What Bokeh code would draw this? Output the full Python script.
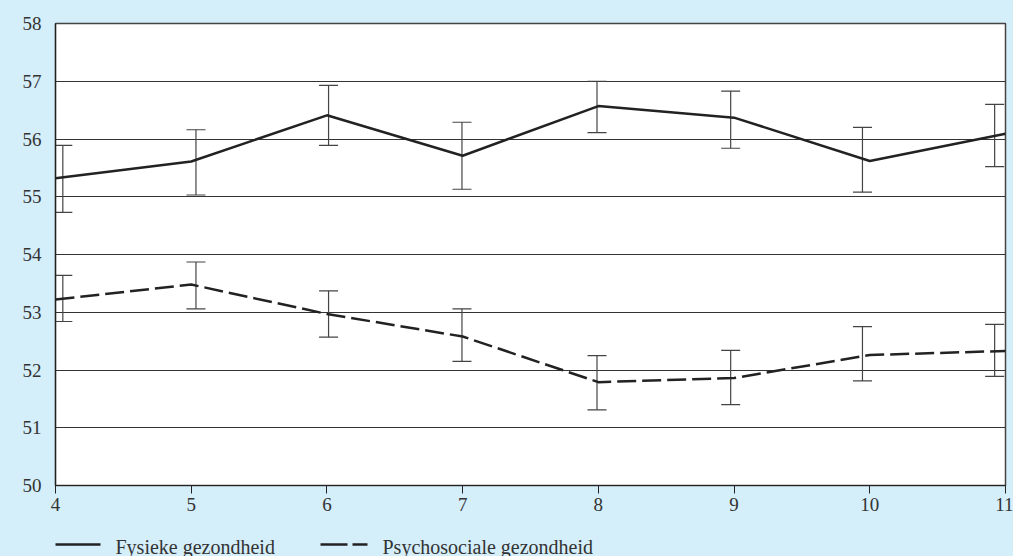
from bokeh.plotting import figure
from bokeh.layouts import column
from bokeh.models import ColumnDataSource, Whisker, TeeHead, FixedTicker, Range1d
from bokeh.core.properties import value
from bokeh.embed import file_html
from bokeh.resources import INLINE

# Data
ages = [4, 5, 6, 7, 8, 9, 10, 11]
err_x = [4.054, 5.035, 6.012, 6.995, 7.99, 8.975, 9.946, 10.92]

fys = [55.32, 55.61, 56.41, 55.71, 56.57, 56.37, 55.62, 56.09]
fys_lo = [54.73, 55.03, 55.89, 55.13, 56.11, 55.84, 55.08, 55.52]
fys_hi = [55.89, 56.16, 56.93, 56.29, 57.00, 56.83, 56.20, 56.60]

psy = [53.22, 53.48, 52.97, 52.58, 51.79, 51.86, 52.26, 52.33]
psy_lo = [52.84, 53.06, 52.57, 52.15, 51.31, 51.40, 51.81, 51.89]
psy_hi = [53.64, 53.87, 53.37, 53.06, 52.25, 52.34, 52.75, 52.79]

y_ticks = [50, 51, 52, 53, 54, 55, 56, 57, 58]
legend_labels = ["Fysieke gezondheid", "Psychosociale gezondheid"]

FONT = "Liberation Serif"
BLUE = "#d4eefa"
INK = "#222222"
TXT = "#333333"
LINE_DASH = "19 6"

p = figure(frame_width=950, frame_height=462, x_range=(4, 11), y_range=(50, 58),
           output_backend="svg", toolbar_location=None,
           min_border_left=55, min_border_right=8, min_border_top=23, min_border_bottom=40)
p.border_fill_color = BLUE
p.background_fill_color = "white"
p.outline_line_color = "#444444"
p.outline_line_width = 1.5

p.xgrid.grid_line_color = None
p.ygrid.grid_line_color = "#333333"
p.ygrid.grid_line_width = 1
p.ygrid.ticker = FixedTicker(ticks=y_ticks)

p.yaxis.ticker = FixedTicker(ticks=y_ticks)
p.xaxis.ticker = FixedTicker(ticks=ages)
for ax in (p.xaxis[0], p.yaxis[0]):
    ax.axis_line_color = INK
    ax.axis_line_width = 1.2
    ax.major_label_text_font = FONT
    ax.major_label_text_font_size = "19px"
    ax.major_label_text_color = TXT
    ax.minor_tick_line_color = None
p.yaxis.major_tick_line_color = None
p.yaxis.major_tick_out = 0
p.yaxis.major_label_standoff = 14
p.xaxis.major_tick_line_color = INK
p.xaxis.major_tick_out = 8
p.xaxis.major_tick_in = 0
p.xaxis.major_label_standoff = 4

src = ColumnDataSource(dict(x=ages, ex=err_x, fys=fys, fys_lo=fys_lo, fys_hi=fys_hi,
                            psy=psy, psy_lo=psy_lo, psy_hi=psy_hi))

for lo, hi in (("fys_lo", "fys_hi"), ("psy_lo", "psy_hi")):
    w = Whisker(source=src, base="ex", lower=lo, upper=hi, dimension="height",
                line_color="#444444", line_width=1.2,
                upper_head=TeeHead(size=19, line_color="#444444", line_width=1.2),
                lower_head=TeeHead(size=19, line_color="#444444", line_width=1.2))
    p.add_layout(w)

p.line("x", "fys", source=src, line_color=INK, line_width=2.5)
p.line("x", "psy", source=src, line_color=INK, line_width=2.5, line_dash=LINE_DASH)

# Legend strip: frame aligned with the main frame, x in page pixels, y in strip pixels
lg = figure(frame_width=950, frame_height=31, x_range=Range1d(55, 1005), y_range=Range1d(31, 0),
            output_backend="svg", toolbar_location=None,
            x_axis_type=None, y_axis_type=None,
            min_border_left=55, min_border_right=8, min_border_top=0, min_border_bottom=0)
lg.border_fill_color = BLUE
lg.background_fill_color = BLUE
lg.outline_line_color = None
lg.grid.grid_line_color = None

lg.line([53, 100], [19, 19], line_color=INK, line_width=2.5)
lg.line([320, 367], [19, 19], line_color=INK, line_width=2.5, line_dash="27 5")
lg.text(x=[115, 382], y=[21, 21], text=legend_labels, text_font=value(FONT),
        text_font_size="20px", text_color=TXT, text_baseline="alphabetic", text_align="left")

layout = column(p, lg, spacing=0, styles={"background-color": BLUE})
open("out.html", "w").write(file_html(layout, INLINE))
